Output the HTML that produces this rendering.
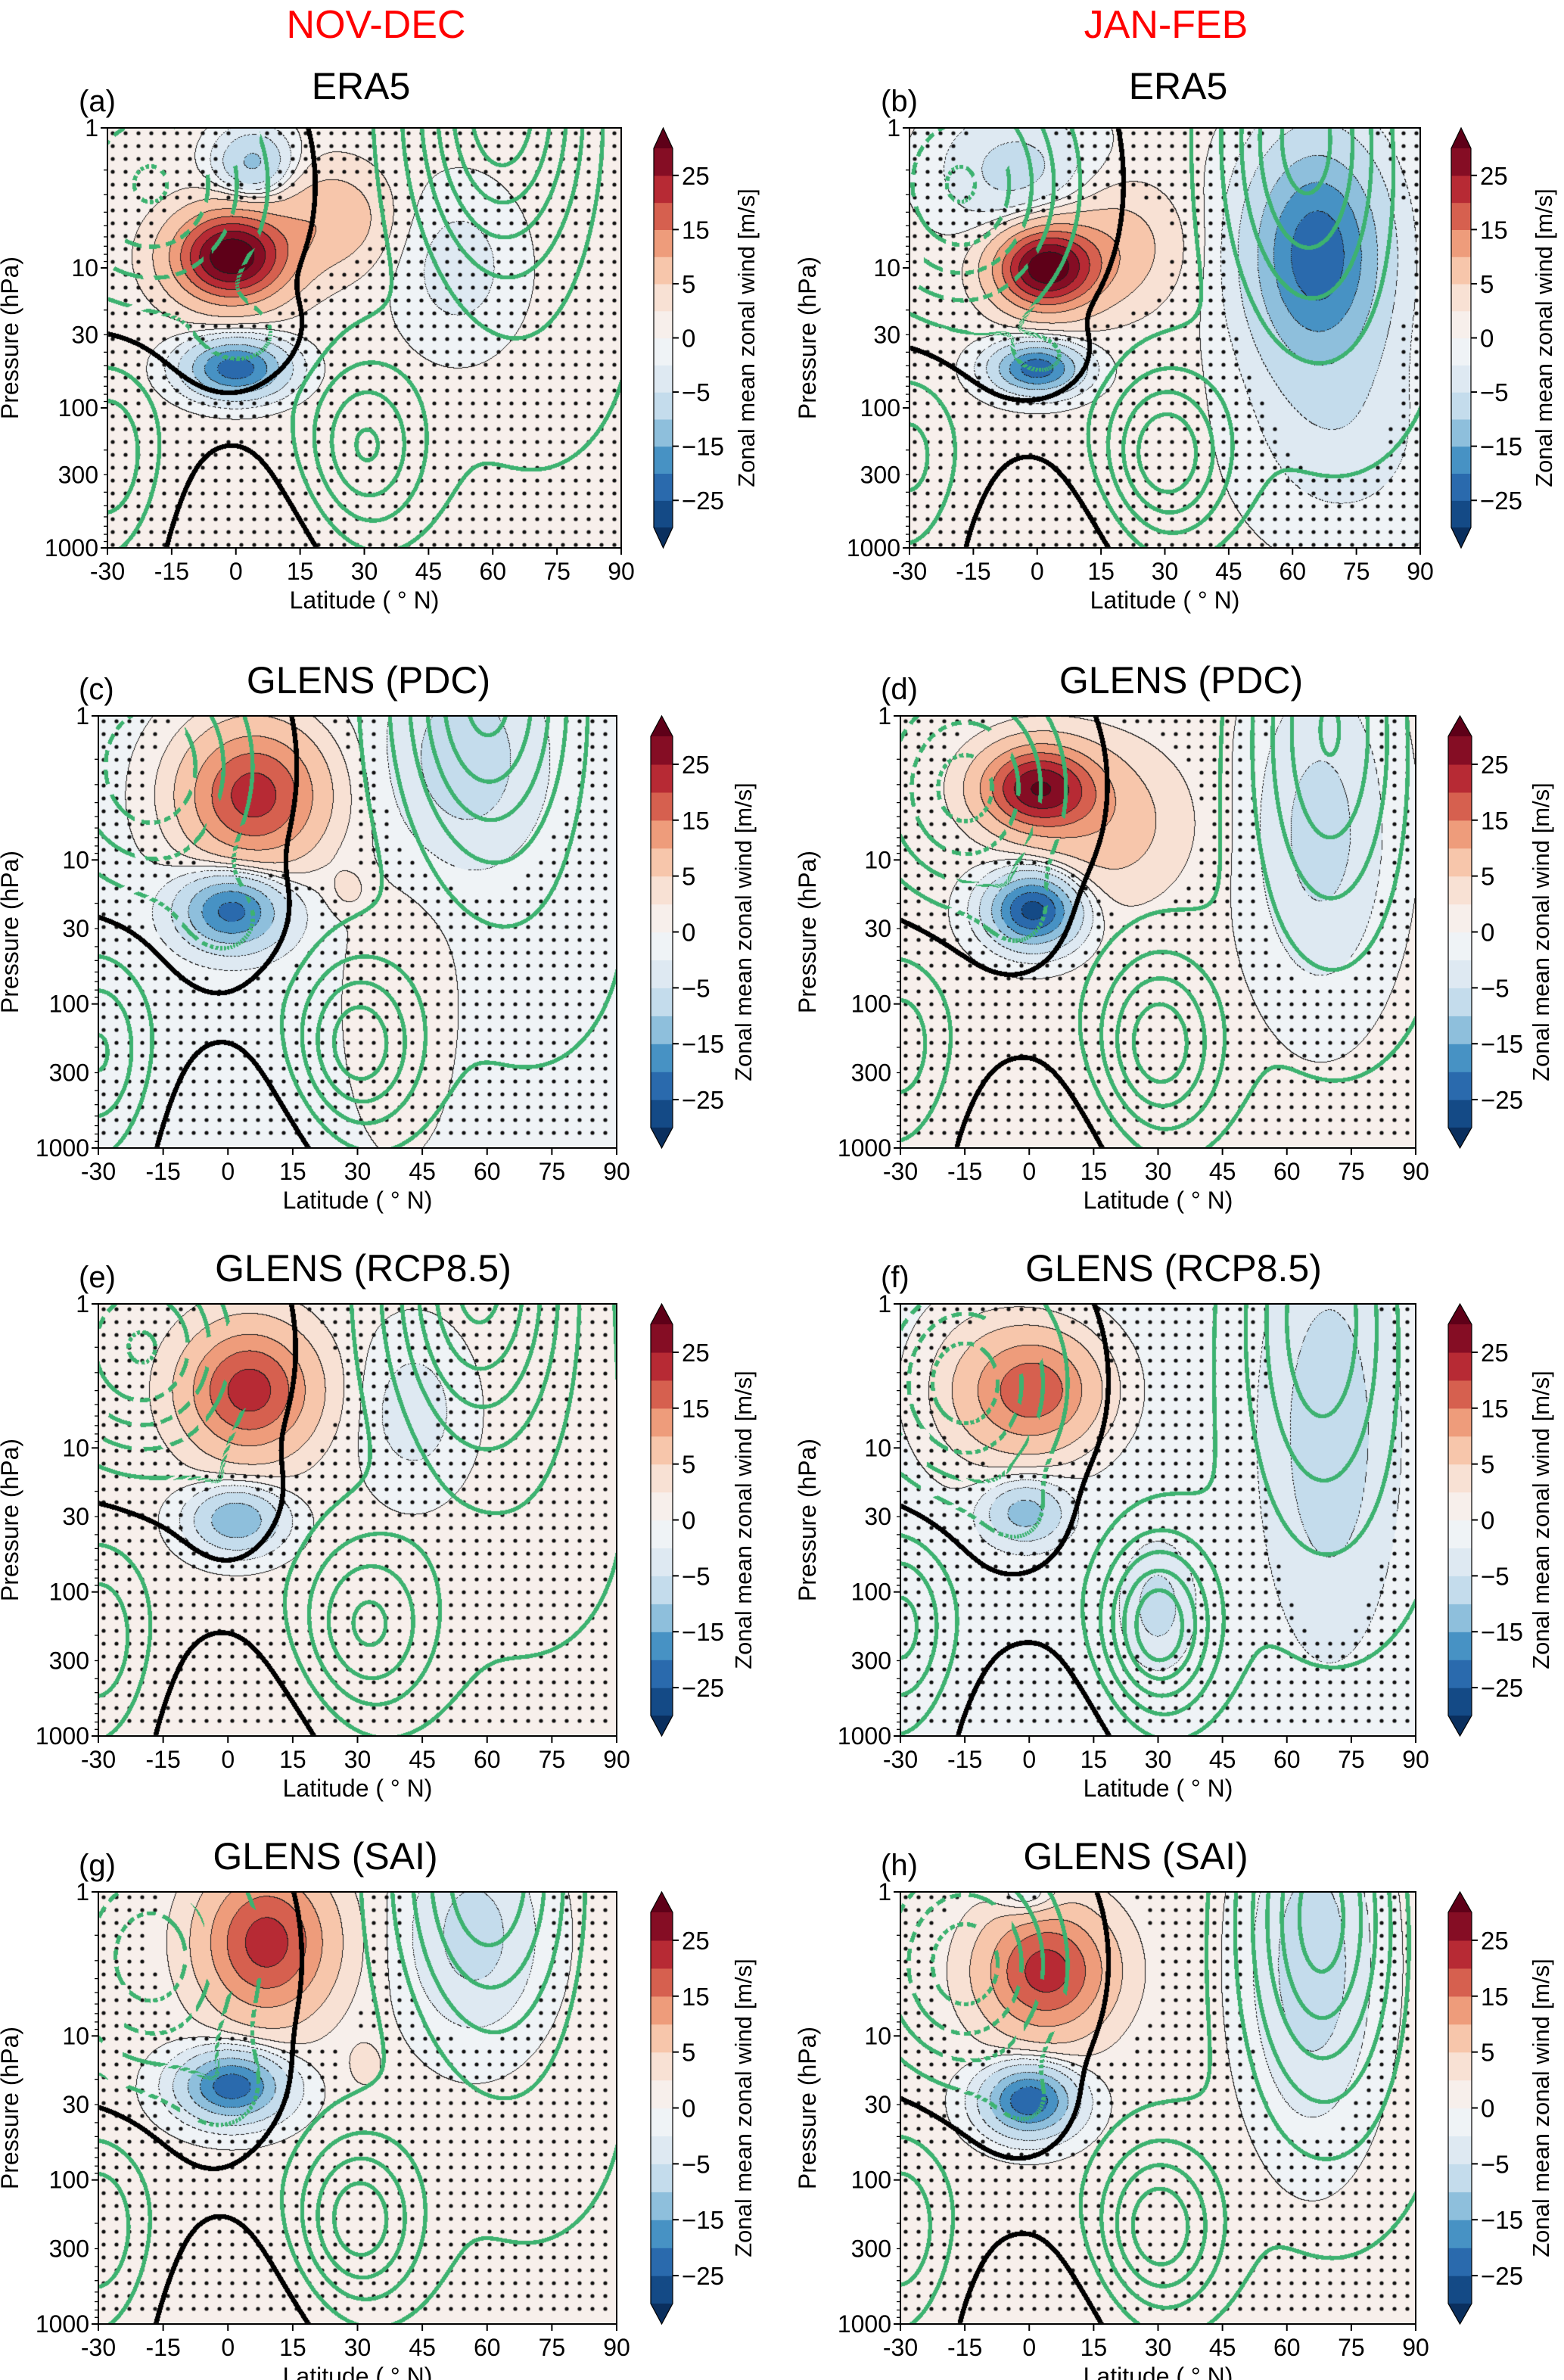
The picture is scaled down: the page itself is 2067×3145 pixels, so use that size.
<!DOCTYPE html>
<html><head><meta charset="utf-8">
<style>
html,body{margin:0;padding:0;background:#fff;}
#wrap{position:relative;width:2067px;height:3145px;overflow:hidden;background:#fff;}
canvas,svg{position:absolute;left:0;top:0;}
text{font-family:"Liberation Sans","DejaVu Sans",sans-serif;}
</style></head>
<body>
<div id="wrap">
<canvas id="cv" width="2067" height="3145"></canvas>
<svg id="sv" width="2067" height="3145" xmlns="http://www.w3.org/2000/svg"></svg>
</div>
<script>
// ---------------- data ----------------
const panelIds = ['a','b','c','d','e','f','g','h'];
const panelTitles = ['ERA5','ERA5','GLENS (PDC)','GLENS (PDC)','GLENS (RCP8.5)','GLENS (RCP8.5)','GLENS (SAI)','GLENS (SAI)'];
const columnTitles = ['NOV-DEC','JAN-FEB'];
const latTicks = [-30,-15,0,15,30,45,60,75,90];
const pTicks = [1,10,30,100,300,1000];
const levelBounds = [-30,-25,-20,-15,-10,-5,-2,0,2,5,10,15,20,25,30];
const cbTicks = [25,15,5,0,-5,-15,-25];
const greenLevels = [-50,-40,-30,-20,-10,10,20,30,40,50,60];
const thinLevels = [-25,-20,-15,-10,-5,-2,0,2,5,10,15,20,25,30];
// anomaly blobs: [lat, log10(p), amplitude m/s, lat width, logp width]
const anomA = [[-1,0.92,34,9,0.22],[22,0.65,8,9,0.25],[0,1.72,-24,8,0.14],[4,0.25,-12,6,0.17],[52,1.0,-4,10,0.4]];
const anomB = [[2,1.0,33,8,0.2],[18,0.85,7,10,0.3],[0,1.72,-24,7,0.12],[-5,0.3,-7,12,0.3],[66,0.9,-24,11,0.55],[72,2.2,-4,15,0.5]];
const anomC = [[6,0.55,23,11,0.33],[1,1.35,-22,8,0.18],[55,0.3,-7,11,0.45],[28,1.2,3,3,0.1],[40,2.0,1.5,10,0.8]];
const anomD = [[2,0.5,28,9,0.2],[18,0.75,7,12,0.35],[1,1.35,-28,7,0.17],[68,0.8,-7,10,0.7]];
const anomE = [[5,0.6,22,10,0.3],[2,1.5,-15,7,0.15],[43,0.75,-4,8,0.35]];
const anomF = [[2,0.6,18,10,0.28],[-1,1.45,-12,6,0.14],[70,0.9,-7,9,0.85],[30,2.1,-6,5,0.25],[-12,0.6,4,10,0.4]];
const anomG = [[9,0.35,22,10,0.35],[1,1.35,-24,8,0.16],[57,0.3,-7,10,0.45],[32,1.2,3,3,0.12]];
const anomH = [[4,0.55,22,10,0.3],[0,1.45,-25,7,0.16],[66,0.5,-8,9,0.7],[0,0.05,-6,5,0.1]];
const anomBase = [0.8,0.6,-0.6,0.5,0.5,-0.8,0.5,0.5];
// climatological wind blobs (green contours / black zero line)
const windA = [[62,-0.2,62,14,0.8],[30,2.3,38,10,0.45],[-30,2.35,26,8,0.45],[-20,0.4,-45,18,0.6],[2,1.5,-15,9,0.2],[6,3.0,-13,18,0.5],[70,1.5,10,20,0.9]];
const windB = [[63,0.0,48,13,0.85],[30,2.35,46,10,0.42],[-30,2.35,20,8,0.45],[-18,0.4,-55,17,0.65],[2,1.65,-12,7,0.15],[5,3.0,-12,18,0.45],[72,1.5,10,20,0.9]];
const windC = [[60,-0.2,58,14,0.8],[30,2.3,44,10,0.42],[-30,2.35,28,8,0.45],[-18,0.35,-42,16,0.6],[0,1.45,-14,9,0.25],[5,3.0,-13,18,0.5],[70,1.5,10,20,0.9]];
const windD = [[70,0.0,44,12,0.9],[30,2.3,44,10,0.45],[-30,2.3,22,8,0.45],[-15,0.5,-48,15,0.55],[-2,1.4,-12,6,0.2],[5,3.0,-12,18,0.45],[72,1.5,10,20,0.9]];
const windE = [[58,-0.2,58,14,0.8],[32,2.25,38,11,0.45],[-30,2.35,25,8,0.45],[-20,0.3,-55,16,0.55],[2,1.4,-10,8,0.25],[5,3.0,-13,18,0.5],[70,1.5,10,20,0.9]];
const windF = [[68,0.0,42,12,0.9],[30,2.25,55,9,0.42],[-30,2.25,30,8,0.45],[-15,0.55,-50,15,0.55],[-2,1.5,-10,7,0.2],[5,3.0,-12,18,0.45],[72,1.5,10,20,0.9]];
const windG = [[60,-0.2,54,14,0.8],[30,2.3,44,10,0.42],[-30,2.35,26,8,0.45],[-18,0.45,-50,16,0.6],[0,1.4,-14,8,0.25],[5,3.0,-13,18,0.5],[70,1.5,10,20,0.9]];
const windH = [[68,0.1,58,12,0.85],[30,2.35,45,10,0.42],[-30,2.35,25,8,0.45],[-15,0.5,-50,15,0.55],[0,1.5,-10,7,0.2],[5,3.0,-12,18,0.45],[72,1.5,10,20,0.9]];
const windBase = [4,4,4,4,4,4,4,4];
const stippleThr = [4,3,1.2,1.5,2.5,2.5,1.2,1.2];

// ---------------- layout ----------------
const anoms=[anomA,anomB,anomC,anomD,anomE,anomF,anomG,anomH];
const winds=[windA,windB,windC,windD,windE,windF,windG,windH];
const geom=[
 {x:142,y:169,w:679,h:555,cb:864,cbw:25,tc:477},
 {x:1202,y:169,w:675,h:555,cb:1918,cbw:26,tc:1557},
 {x:130,y:946,w:685,h:571,cb:860,cbw:29,tc:487},
 {x:1190,y:946,w:681,h:571,cb:1914,cbw:31,tc:1561},
 {x:130,y:1723,w:685,h:571,cb:860,cbw:29,tc:480},
 {x:1190,y:1723,w:681,h:571,cb:1914,cbw:31,tc:1551},
 {x:130,y:2500,w:685,h:571,cb:860,cbw:29,tc:430},
 {x:1190,y:2500,w:681,h:571,cb:1914,cbw:31,tc:1501}
];
const colors=['#0a2f5e','#144a86','#2a6aad','#4792c4','#8ebfdc','#c4dcec','#dee9f2','#eff3f6','#f7efeb','#f8e1d4','#f7c6ab','#ee9c7b','#d6604f','#b72a34','#850d24','#5e0018'];
function hex(c){return [parseInt(c.substr(1,2),16),parseInt(c.substr(3,2),16),parseInt(c.substr(5,2),16)];}
const rgb=colors.map(hex);

function field(blobs,base,L,z){
  let v=base;
  for(const b of blobs){const dl=(L-b[0])/b[3], dz=(z-b[1])/b[4]; v+=b[2]*Math.exp(-0.5*(dl*dl+dz*dz));}
  return v;
}
function xScale(g,lat){return g.x+(lat+30)/120*g.w;}
function yScale(g,p){return g.y+Math.log10(p)/3*g.h;}

const cv=document.getElementById('cv');
const ctx=cv.getContext('2d');

function drawPanel(k){
  const g=geom[k], w=g.w, h=g.h;
  const A=new Float32Array(w*h), W=new Float32Array(w*h);
  for(let j=0;j<h;j++){const z=3*j/(h-1);
    for(let i=0;i<w;i++){const L=-30+120*i/(w-1);
      A[j*w+i]=field(anoms[k],anomBase[k],L,z);
      W[j*w+i]=field(winds[k],windBase[k],L,z);}}
  const img=ctx.createImageData(w,h); const d=img.data;
  for(let p=0;p<w*h;p++){
    const v=A[p]; let idx=0; while(idx<levelBounds.length && v>=levelBounds[idx]) idx++;
    const c=rgb[idx]; d[p*4]=c[0];d[p*4+1]=c[1];d[p*4+2]=c[2];d[p*4+3]=255;
  }
  for(let j=0;j<h-1;j++)for(let i=0;i<w-1;i++){
    const p=j*w+i, a=A[p], r=A[p+1], b=A[p+w];
    for(const lv of thinLevels){
      if((a-lv)*(r-lv)<0||(a-lv)*(b-lv)<0){
        if(lv<0){const gx=r-a,gy=b-a,gn=Math.hypot(gx,gy)||1;const s=(i*(-gy)+j*gx)/gn; if(((s%10)+10)%10>6) break;}
        d[p*4]=30;d[p*4+1]=30;d[p*4+2]=30; break;}
    }
  }
  ctx.putImageData(img,g.x,g.y);
  ctx.fillStyle='#111';
  for(let y=g.y+7;y<g.y+h-3;y+=17)for(let x=g.x+7;x<g.x+w-3;x+=17){
    const i=x-g.x, j=y-g.y; if(Math.abs(A[j*w+i])<stippleThr[k]){ctx.beginPath();ctx.arc(x,y,2.6,0,6.2832);ctx.fill();}
  }
  const oc=document.createElement('canvas'); oc.width=w; oc.height=h; const octx=oc.getContext('2d');
  const im2=octx.createImageData(w,h); const e=im2.data;
  for(let j=1;j<h-1;j++)for(let i=1;i<w-1;i++){
    const p=j*w+i, v=W[p];
    const gx=(W[p+1]-W[p-1])/2, gy=(W[p+w]-W[p-w])/2, gn=Math.hypot(gx,gy)||1e-6;
    const dz=Math.abs(v)/gn;
    if(dz<3.2){ e[p*4]=0;e[p*4+1]=0;e[p*4+2]=0;e[p*4+3]=255; continue; }
    for(const lv of greenLevels){
      const dd=Math.abs(v-lv)/gn;
      if(dd<2.7){
        if(lv<0){const s=(i*(-gy)+j*gx)/gn; if(((s%30)+30)%30>19) break;}
        e[p*4]=61;e[p*4+1]=178;e[p*4+2]=112;e[p*4+3]=255; break;}
    }
  }
  octx.putImageData(im2,0,0);
  ctx.drawImage(oc,g.x,g.y);
}
for(let k=0;k<8;k++) drawPanel(k);

// ---------------- SVG annotations ----------------
const NS='http://www.w3.org/2000/svg';
const sv=document.getElementById('sv');
function mk(tag,attrs,parent){const el=document.createElementNS(NS,tag);for(const a in attrs)el.setAttribute(a,attrs[a]);(parent||sv).appendChild(el);return el;}

for(let c=0;c<2;c++){
  const t=mk('text',{x:[497,1541][c],y:50,'text-anchor':'middle','font-size':52,fill:'#ff0000'});
  t.textContent=columnTitles[c];
  
  
}

for(let k=0;k<8;k++){
  const g=geom[k], id=panelIds[k];
  const grp=mk('g',{});
  
  
  const tt=mk('text',{x:g.tc,y:g.y-(k<2?38:30),'text-anchor':'middle','font-size':50,fill:'#000'},grp);
  tt.textContent=panelTitles[k];
  
  
  const pl=mk('text',{x:(k%2===0?104:1164),y:g.y-22,'font-size':40,fill:'#000'},grp);
  pl.textContent='('+id+')';
  
  
  const fr=mk('rect',{x:g.x,y:g.y,width:g.w,height:g.h,fill:'none',stroke:'#000','stroke-width':2},grp);
  
  
  for(const lat of latTicks){
    const x=xScale(g,lat);
    mk('line',{x1:x,x2:x,y1:g.y+g.h,y2:g.y+g.h+9,stroke:'#000','stroke-width':2},grp);
    const tl=mk('text',{x:x,y:g.y+g.h+42,'text-anchor':'middle','font-size':32,fill:'#000'},grp);
    tl.textContent=String(lat);
    
    
  }
  const xl=mk('text',{x:g.x+g.w/2,y:g.y+g.h+80,'text-anchor':'middle','font-size':32,fill:'#000'},grp);
  xl.textContent='Latitude ( \u00B0 N)';
  
  
  for(let dec=0;dec<3;dec++)for(let m=1;m<10;m++){
    const p=m*Math.pow(10,dec); const y=yScale(g,p);
    mk('line',{x1:g.x-(m===1?9:5),x2:g.x,y1:y,y2:y,stroke:'#000','stroke-width':m===1?2:1.3},grp);
  }
  mk('line',{x1:g.x-9,x2:g.x,y1:g.y+g.h,y2:g.y+g.h,stroke:'#000','stroke-width':2},grp);
  for(const p of pTicks){
    const yl=mk('text',{x:g.x-12,y:yScale(g,p)+11,'text-anchor':'end','font-size':32,fill:'#000'},grp);
    yl.textContent=String(p);
    
    
  }
  const ycx=(k%2===0?24:1078), ycy=g.y+g.h/2;
  const yt=mk('text',{x:ycx,y:ycy,'text-anchor':'middle','font-size':32,fill:'#000',transform:'rotate(-90 '+ycx+' '+ycy+')'},grp);
  yt.textContent='Pressure (hPa)';
  
  
  const cb=mk('g',{},grp);
  
  
  const tri=27, top=g.y+tri, bot=g.y+g.h-tri, nb=levelBounds.length-1, bh=(bot-top)/nb;
  for(let b=0;b<nb;b++){
    const r=mk('rect',{x:g.cb,y:top+(nb-1-b)*bh,width:g.cbw,height:bh+0.6,fill:colors[b+1]},cb);
    
    
  }
  mk('path',{d:`M${g.cb},${top} L${g.cb+g.cbw/2},${g.y} L${g.cb+g.cbw},${top} Z`,fill:colors[15]},cb);
  mk('path',{d:`M${g.cb},${bot} L${g.cb+g.cbw/2},${g.y+g.h} L${g.cb+g.cbw},${bot} Z`,fill:colors[0]},cb);
  mk('path',{d:`M${g.cb},${top} L${g.cb+g.cbw/2},${g.y} L${g.cb+g.cbw},${top} L${g.cb+g.cbw},${bot} L${g.cb+g.cbw/2},${g.y+g.h} L${g.cb},${bot} Z`,fill:'none',stroke:'#000','stroke-width':1.2},cb);
  for(const t of cbTicks){
    const bi=levelBounds.indexOf(t); const y=bot-bi*bh;
    mk('line',{x1:g.cb+g.cbw,x2:g.cb+g.cbw+8,y1:y,y2:y,stroke:'#000','stroke-width':2},cb);
    const ct=mk('text',{x:g.cb+g.cbw+12,y:y+12,'font-size':33,fill:'#000'},cb);
    ct.textContent=(t<0?'\u2212'+(-t):String(t));
    
    
  }
  const lx=g.cb+133, ly=g.y+g.h/2;
  const cl=mk('text',{x:lx,y:ly,'text-anchor':'middle','font-size':31,fill:'#000',transform:'rotate(-90 '+lx+' '+ly+')'},cb);
  cl.textContent='Zonal mean zonal wind [m/s]';
  
  
}
</script>
</body></html>
